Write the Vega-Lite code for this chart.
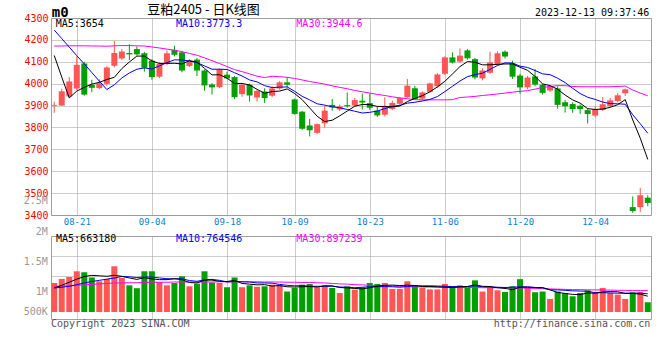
{
  "$schema": "https://vega.github.io/schema/vega-lite/v6.json",
  "background": "white",
  "padding": {"left": 23, "top": 3, "right": 5, "bottom": 0},
  "bounds": "flush",
  "spacing": 21,
  "config": {
    "view": {"stroke": "#a0a0a0", "strokeWidth": 1},
    "font": "DejaVu Sans Mono",
    "text": {"font": "DejaVu Sans Mono", "fontSize": 10}
  },
  "datasets": {
    "kline": [
      {"date":"08-16","open":3899,"high":3917,"low":3867,"close":3903,"volume":1220000,"ma5":4129,"ma10":4245,"ma30":4172,"vma5":1010000,"vma10":1010000,"vma30":1080000},
      {"date":"08-17","open":3900,"high":3977,"low":3898,"close":3965,"volume":1390000,"ma5":4030,"ma10":4206,"ma30":4172,"vma5":1120000,"vma10":1040000,"vma30":1090000},
      {"date":"08-18","open":3942,"high":4030,"low":3936,"close":4010,"volume":1470000,"ma5":3935,"ma10":4167,"ma30":4173,"vma5":1250000,"vma10":1080000,"vma30":1100000},
      {"date":"08-21","open":3978,"high":4125,"low":3970,"close":4086,"volume":1710000,"ma5":3966,"ma10":4128,"ma30":4173,"vma5":1380000,"vma10":1150000,"vma30":1120000},
      {"date":"08-22","open":4092,"high":4100,"low":3945,"close":3950,"volume":1670000,"ma5":3983,"ma10":4090,"ma30":4173,"vma5":1490000,"vma10":1220000,"vma30":1140000},
      {"date":"08-23","open":3994,"high":4018,"low":3961,"close":3981,"volume":1450000,"ma5":3998,"ma10":4051,"ma30":4172,"vma5":1540000,"vma10":1280000,"vma30":1160000},
      {"date":"08-24","open":3980,"high":4020,"low":3975,"close":4002,"volume":1290000,"ma5":4006,"ma10":4012,"ma30":4172,"vma5":1520000,"vma10":1330000,"vma30":1180000},
      {"date":"08-25","open":3999,"high":4080,"low":3990,"close":4074,"volume":1390000,"ma5":4019,"ma10":3973,"ma30":4171,"vma5":1500000,"vma10":1380000,"vma30":1200000},
      {"date":"08-28","open":4082,"high":4195,"low":4075,"close":4140,"volume":1920000,"ma5":4029,"ma10":3995,"ma30":4173,"vma5":1540000,"vma10":1430000,"vma30":1220000},
      {"date":"08-29","open":4115,"high":4158,"low":4108,"close":4147,"volume":1430000,"ma5":4069,"ma10":4026,"ma30":4174,"vma5":1500000,"vma10":1490000,"vma30":1220000},
      {"date":"08-30","open":4140,"high":4180,"low":4108,"close":4134,"volume":1120000,"ma5":4099,"ma10":4049,"ma30":4174,"vma5":1430000,"vma10":1480000,"vma30":1230000},
      {"date":"08-31","open":4158,"high":4170,"low":4128,"close":4134,"volume":1000000,"ma5":4126,"ma10":4066,"ma30":4173,"vma5":1370000,"vma10":1450000,"vma30":1230000},
      {"date":"09-01","open":4139,"high":4145,"low":4055,"close":4073,"volume":1710000,"ma5":4126,"ma10":4072,"ma30":4172,"vma5":1440000,"vma10":1470000,"vma30":1240000},
      {"date":"09-04","open":4105,"high":4112,"low":4018,"close":4030,"volume":1710000,"ma5":4104,"ma10":4067,"ma30":4168,"vma5":1390000,"vma10":1470000,"vma30":1250000},
      {"date":"09-05","open":4032,"high":4100,"low":4025,"close":4090,"volume":1260000,"ma5":4092,"ma10":4081,"ma30":4163,"vma5":1360000,"vma10":1430000,"vma30":1250000},
      {"date":"09-06","open":4090,"high":4152,"low":4085,"close":4139,"volume":1120000,"ma5":4093,"ma10":4096,"ma30":4158,"vma5":1360000,"vma10":1400000,"vma30":1250000},
      {"date":"09-07","open":4154,"high":4173,"low":4125,"close":4132,"volume":1220000,"ma5":4093,"ma10":4109,"ma30":4153,"vma5":1400000,"vma10":1390000,"vma30":1260000},
      {"date":"09-08","open":4143,"high":4150,"low":4052,"close":4060,"volume":1500000,"ma5":4090,"ma10":4108,"ma30":4146,"vma5":1360000,"vma10":1400000,"vma30":1260000},
      {"date":"09-11","open":4081,"high":4112,"low":4076,"close":4104,"volume":1080000,"ma5":4105,"ma10":4104,"ma30":4138,"vma5":1240000,"vma10":1320000,"vma30":1260000},
      {"date":"09-12","open":4110,"high":4118,"low":4035,"close":4060,"volume":1190000,"ma5":4099,"ma10":4096,"ma30":4130,"vma5":1220000,"vma10":1290000,"vma30":1260000},
      {"date":"09-13","open":4060,"high":4065,"low":3968,"close":3992,"volume":1710000,"ma5":4070,"ma10":4081,"ma30":4118,"vma5":1340000,"vma10":1350000,"vma30":1260000},
      {"date":"09-14","open":3996,"high":4003,"low":3950,"close":3983,"volume":1240000,"ma5":4040,"ma10":4066,"ma30":4105,"vma5":1340000,"vma10":1370000,"vma30":1260000},
      {"date":"09-15","open":3984,"high":4070,"low":3980,"close":4066,"volume":1220000,"ma5":4041,"ma10":4066,"ma30":4092,"vma5":1290000,"vma10":1330000,"vma30":1270000},
      {"date":"09-18","open":4041,"high":4055,"low":4020,"close":4024,"volume":1040000,"ma5":4025,"ma10":4065,"ma30":4078,"vma5":1280000,"vma10":1260000,"vma30":1270000},
      {"date":"09-19","open":4030,"high":4035,"low":3930,"close":3938,"volume":1450000,"ma5":4001,"ma10":4050,"ma30":4064,"vma5":1330000,"vma10":1280000,"vma30":1270000},
      {"date":"09-20","open":3952,"high":3998,"low":3940,"close":3995,"volume":1040000,"ma5":4001,"ma10":4035,"ma30":4055,"vma5":1200000,"vma10":1270000,"vma30":1270000},
      {"date":"09-21","open":3995,"high":4000,"low":3918,"close":3946,"volume":1120000,"ma5":3994,"ma10":4017,"ma30":4045,"vma5":1170000,"vma10":1260000,"vma30":1270000},
      {"date":"09-22","open":3937,"high":3972,"low":3918,"close":3967,"volume":1060000,"ma5":3974,"ma10":4008,"ma30":4034,"vma5":1140000,"vma10":1220000,"vma30":1270000},
      {"date":"09-25","open":3964,"high":3979,"low":3912,"close":3934,"volume":1080000,"ma5":3956,"ma10":3991,"ma30":4028,"vma5":1150000,"vma10":1220000,"vma30":1260000},
      {"date":"09-26","open":3945,"high":3988,"low":3938,"close":3978,"volume":1150000,"ma5":3964,"ma10":3982,"ma30":4034,"vma5":1090000,"vma10":1210000,"vma30":1260000},
      {"date":"09-27","open":3978,"high":4012,"low":3972,"close":4006,"volume":1150000,"ma5":3966,"ma10":3984,"ma30":4032,"vma5":1110000,"vma10":1160000,"vma30":1260000},
      {"date":"09-28","open":4006,"high":4029,"low":3983,"close":3995,"volume":860000,"ma5":3976,"ma10":3985,"ma30":4029,"vma5":1060000,"vma10":1120000,"vma30":1250000},
      {"date":"10-09","open":3928,"high":3932,"low":3858,"close":3862,"volume":1010000,"ma5":3955,"ma10":3965,"ma30":4024,"vma5":1050000,"vma10":1100000,"vma30":1250000},
      {"date":"10-10","open":3872,"high":3875,"low":3789,"close":3794,"volume":1150000,"ma5":3927,"ma10":3942,"ma30":4017,"vma5":1060000,"vma10":1110000,"vma30":1240000},
      {"date":"10-11","open":3809,"high":3839,"low":3759,"close":3787,"volume":1180000,"ma5":3889,"ma10":3926,"ma30":4010,"vma5":1070000,"vma10":1080000,"vma30":1240000},
      {"date":"10-12","open":3775,"high":3818,"low":3770,"close":3815,"volume":1040000,"ma5":3851,"ma10":3908,"ma30":4004,"vma5":1050000,"vma10":1080000,"vma30":1230000},
      {"date":"10-13","open":3819,"high":3900,"low":3800,"close":3877,"volume":1120000,"ma5":3827,"ma10":3902,"ma30":3998,"vma5":1100000,"vma10":1080000,"vma30":1220000},
      {"date":"10-16","open":3903,"high":3930,"low":3877,"close":3892,"volume":1010000,"ma5":3833,"ma10":3894,"ma30":3990,"vma5":1100000,"vma10":1080000,"vma30":1200000},
      {"date":"10-17","open":3882,"high":3905,"low":3875,"close":3896,"volume":800000,"ma5":3853,"ma10":3890,"ma30":3983,"vma5":1030000,"vma10":1050000,"vma30":1180000},
      {"date":"10-18","open":3902,"high":3960,"low":3890,"close":3897,"volume":1080000,"ma5":3875,"ma10":3882,"ma30":3977,"vma5":1010000,"vma10":1040000,"vma30":1170000},
      {"date":"10-19","open":3900,"high":3935,"low":3895,"close":3925,"volume":940000,"ma5":3897,"ma10":3874,"ma30":3969,"vma5":990000,"vma10":1020000,"vma30":1150000},
      {"date":"10-20","open":3922,"high":3955,"low":3882,"close":3914,"volume":1040000,"ma5":3905,"ma10":3866,"ma30":3963,"vma5":970000,"vma10":1040000,"vma30":1140000},
      {"date":"10-23","open":3911,"high":3955,"low":3880,"close":3890,"volume":1220000,"ma5":3904,"ma10":3869,"ma30":3957,"vma5":1020000,"vma10":1060000,"vma30":1120000},
      {"date":"10-24","open":3877,"high":3895,"low":3848,"close":3855,"volume":1180000,"ma5":3896,"ma10":3875,"ma30":3951,"vma5":1090000,"vma10":1060000,"vma30":1110000},
      {"date":"10-25","open":3858,"high":3938,"low":3850,"close":3897,"volume":1220000,"ma5":3896,"ma10":3886,"ma30":3946,"vma5":1120000,"vma10":1070000,"vma30":1100000},
      {"date":"10-26","open":3885,"high":3922,"low":3880,"close":3912,"volume":970000,"ma5":3894,"ma10":3896,"ma30":3940,"vma5":1130000,"vma10":1060000,"vma30":1090000},
      {"date":"10-27","open":3908,"high":3940,"low":3903,"close":3934,"volume":970000,"ma5":3898,"ma10":3901,"ma30":3935,"vma5":1110000,"vma10":1040000,"vma30":1080000},
      {"date":"10-30","open":3938,"high":4021,"low":3933,"close":3991,"volume":1290000,"ma5":3918,"ma10":3911,"ma30":3931,"vma5":1130000,"vma10":1070000,"vma30":1070000},
      {"date":"10-31","open":3979,"high":3990,"low":3925,"close":3930,"volume":1120000,"ma5":3933,"ma10":3915,"ma30":3927,"vma5":1110000,"vma10":1100000,"vma30":1060000},
      {"date":"11-01","open":3932,"high":3965,"low":3925,"close":3960,"volume":1010000,"ma5":3945,"ma10":3921,"ma30":3926,"vma5":1070000,"vma10":1100000,"vma30":1050000},
      {"date":"11-02","open":3963,"high":4005,"low":3958,"close":4001,"volume":950000,"ma5":3963,"ma10":3928,"ma30":3926,"vma5":1070000,"vma10":1100000,"vma30":1050000},
      {"date":"11-03","open":3988,"high":4048,"low":3982,"close":4042,"volume":950000,"ma5":3985,"ma10":3941,"ma30":3926,"vma5":1060000,"vma10":1090000,"vma30":1040000},
      {"date":"11-06","open":4045,"high":4125,"low":4040,"close":4120,"volume":1180000,"ma5":4011,"ma10":3964,"ma30":3926,"vma5":1040000,"vma10":1080000,"vma30":1040000},
      {"date":"11-07","open":4120,"high":4143,"low":4092,"close":4097,"volume":1080000,"ma5":4044,"ma10":3988,"ma30":3927,"vma5":1030000,"vma10":1070000,"vma30":1040000},
      {"date":"11-08","open":4101,"high":4161,"low":4095,"close":4128,"volume":1120000,"ma5":4078,"ma10":4012,"ma30":3937,"vma5":1060000,"vma10":1060000,"vma30":1030000},
      {"date":"11-09","open":4152,"high":4158,"low":4110,"close":4116,"volume":1010000,"ma5":4101,"ma10":4032,"ma30":3939,"vma5":1070000,"vma10":1070000,"vma30":1030000},
      {"date":"11-10","open":4112,"high":4118,"low":4020,"close":4028,"volume":1330000,"ma5":4098,"ma10":4041,"ma30":3942,"vma5":1140000,"vma10":1100000,"vma30":1030000},
      {"date":"11-13","open":4024,"high":4070,"low":4015,"close":4060,"volume":860000,"ma5":4086,"ma10":4048,"ma30":3946,"vma5":1080000,"vma10":1060000,"vma30":1020000},
      {"date":"11-14","open":4050,"high":4146,"low":4045,"close":4097,"volume":1010000,"ma5":4086,"ma10":4065,"ma30":3949,"vma5":1070000,"vma10":1050000,"vma30":1020000},
      {"date":"11-15","open":4090,"high":4148,"low":4085,"close":4139,"volume":910000,"ma5":4088,"ma10":4083,"ma30":3953,"vma5":1020000,"vma10":1040000,"vma30":1020000},
      {"date":"11-16","open":4146,"high":4152,"low":4115,"close":4124,"volume":840000,"ma5":4090,"ma10":4095,"ma30":3957,"vma5":990000,"vma10":1030000,"vma30":1020000},
      {"date":"11-17","open":4092,"high":4105,"low":4022,"close":4032,"volume":1080000,"ma5":4090,"ma10":4094,"ma30":3961,"vma5":940000,"vma10":1040000,"vma30":1010000},
      {"date":"11-20","open":4037,"high":4045,"low":3954,"close":3983,"volume":1380000,"ma5":4075,"ma10":4080,"ma30":3965,"vma5":1040000,"vma10":1060000,"vma30":1010000},
      {"date":"11-21","open":3983,"high":4035,"low":3975,"close":4028,"volume":1010000,"ma5":4061,"ma10":4074,"ma30":3968,"vma5":1040000,"vma10":1060000,"vma30":1000000},
      {"date":"11-22","open":4033,"high":4067,"low":3988,"close":3996,"volume":830000,"ma5":4033,"ma10":4060,"ma30":3975,"vma5":1030000,"vma10":1030000,"vma30":990000},
      {"date":"11-23","open":3995,"high":4000,"low":3950,"close":3958,"volume":860000,"ma5":3999,"ma10":4045,"ma30":3983,"vma5":1030000,"vma10":1010000,"vma30":980000},
      {"date":"11-24","open":3969,"high":3992,"low":3962,"close":3988,"volume":550000,"ma5":3991,"ma10":4041,"ma30":3987,"vma5":930000,"vma10":930000,"vma30":970000},
      {"date":"11-27","open":3978,"high":3988,"low":3886,"close":3903,"volume":860000,"ma5":3975,"ma10":4025,"ma30":3991,"vma5":820000,"vma10":930000,"vma30":960000},
      {"date":"11-28","open":3915,"high":3925,"low":3868,"close":3897,"volume":790000,"ma5":3948,"ma10":4005,"ma30":3991,"vma5":780000,"vma10":910000,"vma30":950000},
      {"date":"11-29","open":3907,"high":3915,"low":3867,"close":3884,"volume":660000,"ma5":3926,"ma10":3979,"ma30":3987,"vma5":740000,"vma10":890000,"vma30":940000},
      {"date":"11-30","open":3899,"high":3905,"low":3862,"close":3884,"volume":800000,"ma5":3911,"ma10":3955,"ma30":3986,"vma5":730000,"vma10":880000,"vma30":940000},
      {"date":"12-01","open":3879,"high":3888,"low":3818,"close":3861,"volume":910000,"ma5":3886,"ma10":3938,"ma30":3986,"vma5":800000,"vma10":870000,"vma30":930000},
      {"date":"12-04","open":3854,"high":3895,"low":3848,"close":3883,"volume":800000,"ma5":3882,"ma10":3928,"ma30":3986,"vma5":790000,"vma10":810000,"vma30":930000},
      {"date":"12-05","open":3880,"high":3939,"low":3875,"close":3906,"volume":1010000,"ma5":3884,"ma10":3916,"ma30":3986,"vma5":840000,"vma10":810000,"vma30":920000},
      {"date":"12-06","open":3898,"high":3935,"low":3893,"close":3924,"volume":800000,"ma5":3892,"ma10":3909,"ma30":3986,"vma5":860000,"vma10":800000,"vma30":920000},
      {"date":"12-07","open":3921,"high":3957,"low":3915,"close":3947,"volume":730000,"ma5":3904,"ma10":3908,"ma30":3987,"vma5":850000,"vma10":790000,"vma30":910000},
      {"date":"12-08","open":3956,"high":3978,"low":3944,"close":3974,"volume":550000,"ma5":3927,"ma10":3906,"ma30":3989,"vma5":780000,"vma10":790000,"vma30":910000},
      {"date":"12-11","open":3436,"high":3485,"low":3410,"close":3418,"volume":830000,"ma5":3834,"ma10":3858,"ma30":3971,"vma5":780000,"vma10":790000,"vma30":900000},
      {"date":"12-12","open":3436,"high":3524,"low":3414,"close":3490,"volume":840000,"ma5":3751,"ma10":3817,"ma30":3957,"vma5":750000,"vma10":790000,"vma30":900000},
      {"date":"12-13","open":3479,"high":3490,"low":3440,"close":3455,"volume":410000,"ma5":3654,"ma10":3773.3,"ma30":3944.6,"vma5":663180,"vma10":764546,"vma30":897239}
    ]
  },
  "vconcat": [
    {
      "width": 600,
      "height": 197,
      "data": {"name": "kline"},
      "encoding": {
        "x": {
          "field": "date", "type": "ordinal", "sort": null,
          "scale": {"type": "point", "padding": 0.43},
          "axis": {
            "title": null,
            "values": ["08-21","09-04","09-18","10-09","10-23","11-06","11-20","12-04"],
            "grid": true, "gridColor": "#999999", "gridDash": [1, 1],
            "ticks": false, "domain": false, "labelAngle": 0,
            "labelColor": "#0b7fd4", "labelFont": "DejaVu Sans Mono", "labelFontSize": 9, "labelPadding": 2
          }
        }
      },
      "layer": [
        {
          "mark": {"type": "rule", "strokeWidth": 1},
          "encoding": {
            "y": {
              "field": "low", "type": "quantitative",
              "scale": {"domain": [3400, 4300], "zero": false, "nice": false},
              "axis": {"title": null, "values": [3400, 3500, 3600, 3700, 3800, 3900, 4000, 4100, 4200, 4300], "format": "d", "labelColor": "#ff0000", "labelFont": "DejaVu Sans Mono", "labelFontSize": 10, "labelPadding": 3, "labelOverlap": false, "labelBound": false, "ticks": false, "domain": false, "grid": true, "gridColor": "#999999", "gridDash": [1, 1]}
            },
            "y2": {"field": "high"},
            "color": {"condition": {"test": "datum.close >= datum.open", "value": "#ff5555"}, "value": "#00a000"}
          }
        },
        {
          "mark": {"type": "bar", "size": 6},
          "encoding": {
            "y": {"field": "open", "type": "quantitative",
              "axis": {"title": null, "values": [3400, 3500, 3600, 3700, 3800, 3900, 4000, 4100, 4200, 4300], "format": "d", "labelColor": "#ff0000", "labelFont": "DejaVu Sans Mono", "labelFontSize": 10, "labelPadding": 3, "labelOverlap": false, "labelBound": false, "ticks": false, "domain": false, "grid": true, "gridColor": "#999999", "gridDash": [1, 1]}},
            "y2": {"field": "close"},
            "color": {"condition": {"test": "datum.close >= datum.open", "value": "#ff5555"}, "value": "#00a000"}
          }
        },
        {"mark": {"type": "line", "color": "#ff00ff", "strokeWidth": 1}, "encoding": {"y": {"field": "ma30", "type": "quantitative",
          "axis": {"title": null, "values": [3400, 3500, 3600, 3700, 3800, 3900, 4000, 4100, 4200, 4300], "format": "d", "labelColor": "#ff0000", "labelFont": "DejaVu Sans Mono", "labelFontSize": 10, "labelPadding": 3, "labelOverlap": false, "labelBound": false, "ticks": false, "domain": false, "grid": true, "gridColor": "#999999", "gridDash": [1, 1]}}}},
        {"mark": {"type": "line", "color": "#0000ff", "strokeWidth": 1}, "encoding": {"y": {"field": "ma10", "type": "quantitative",
          "axis": {"title": null, "values": [3400, 3500, 3600, 3700, 3800, 3900, 4000, 4100, 4200, 4300], "format": "d", "labelColor": "#ff0000", "labelFont": "DejaVu Sans Mono", "labelFontSize": 10, "labelPadding": 3, "labelOverlap": false, "labelBound": false, "ticks": false, "domain": false, "grid": true, "gridColor": "#999999", "gridDash": [1, 1]}}}},
        {"mark": {"type": "line", "color": "#000000", "strokeWidth": 1}, "encoding": {"y": {"field": "ma5", "type": "quantitative",
          "axis": {"title": null, "values": [3400, 3500, 3600, 3700, 3800, 3900, 4000, 4100, 4200, 4300], "format": "d", "labelColor": "#ff0000", "labelFont": "DejaVu Sans Mono", "labelFontSize": 10, "labelPadding": 3, "labelOverlap": false, "labelBound": false, "ticks": false, "domain": false, "grid": true, "gridColor": "#999999", "gridDash": [1, 1]}}}},
        {
          "data": {"values": [{"t": "2.5M"}]},
          "mark": {"type": "text", "align": "right", "dx": -6.5, "color": "#999999"},
          "encoding": {"x": {"datum": "08-16", "type": "ordinal"}, "y": {"datum": 3462, "type": "quantitative",
            "axis": {"title": null, "values": [3400, 3500, 3600, 3700, 3800, 3900, 4000, 4100, 4200, 4300], "format": "d", "labelColor": "#ff0000", "labelFont": "DejaVu Sans Mono", "labelFontSize": 10, "labelPadding": 3, "labelOverlap": false, "labelBound": false, "ticks": false, "domain": false, "grid": true, "gridColor": "#999999", "gridDash": [1, 1]}}, "text": {"field": "t"}}
        },
        {
          "data": {"values": [{"t": "m0"}]},
          "mark": {"type": "text", "align": "left", "dx": -2.5, "fontWeight": "bold", "fontSize": 14, "color": "#000000"},
          "encoding": {"x": {"datum": "08-16", "type": "ordinal"}, "y": {"datum": 4324, "type": "quantitative",
            "axis": {"title": null, "values": [3400, 3500, 3600, 3700, 3800, 3900, 4000, 4100, 4200, 4300], "format": "d", "labelColor": "#ff0000", "labelFont": "DejaVu Sans Mono", "labelFontSize": 10, "labelPadding": 3, "labelOverlap": false, "labelBound": false, "ticks": false, "domain": false, "grid": true, "gridColor": "#999999", "gridDash": [1, 1]}}, "text": {"field": "t"}}
        },
        {
          "data": {"values": [{"t": "豆粕2405 - 日K线图"}]},
          "mark": {"type": "text", "align": "center", "dx": -1, "font": "Noto Sans CJK SC", "fontSize": 13, "color": "#000000"},
          "encoding": {"x": {"datum": "09-13", "type": "ordinal"}, "y": {"datum": 4335, "type": "quantitative",
            "axis": {"title": null, "values": [3400, 3500, 3600, 3700, 3800, 3900, 4000, 4100, 4200, 4300], "format": "d", "labelColor": "#ff0000", "labelFont": "DejaVu Sans Mono", "labelFontSize": 10, "labelPadding": 3, "labelOverlap": false, "labelBound": false, "ticks": false, "domain": false, "grid": true, "gridColor": "#999999", "gridDash": [1, 1]}}, "text": {"field": "t"}}
        },
        {
          "data": {"values": [{"t": "2023-12-13 09:37:46"}]},
          "mark": {"type": "text", "align": "right", "dx": 1.5, "color": "#000000"},
          "encoding": {"x": {"datum": "12-13", "type": "ordinal"}, "y": {"datum": 4324, "type": "quantitative",
            "axis": {"title": null, "values": [3400, 3500, 3600, 3700, 3800, 3900, 4000, 4100, 4200, 4300], "format": "d", "labelColor": "#ff0000", "labelFont": "DejaVu Sans Mono", "labelFontSize": 10, "labelPadding": 3, "labelOverlap": false, "labelBound": false, "ticks": false, "domain": false, "grid": true, "gridColor": "#999999", "gridDash": [1, 1]}}, "text": {"field": "t"}}
        },
        {
          "data": {"values": [{"t": "MA5:3654"}]},
          "mark": {"type": "text", "align": "left", "dx": 1.5, "color": "#000000"},
          "encoding": {"x": {"datum": "08-16", "type": "ordinal"}, "y": {"datum": 4272, "type": "quantitative",
            "axis": {"title": null, "values": [3400, 3500, 3600, 3700, 3800, 3900, 4000, 4100, 4200, 4300], "format": "d", "labelColor": "#ff0000", "labelFont": "DejaVu Sans Mono", "labelFontSize": 10, "labelPadding": 3, "labelOverlap": false, "labelBound": false, "ticks": false, "domain": false, "grid": true, "gridColor": "#999999", "gridDash": [1, 1]}}, "text": {"field": "t"}}
        },
        {
          "data": {"values": [{"t": "MA10:3773.3"}]},
          "mark": {"type": "text", "align": "left", "dx": 1.6, "color": "#0000ff"},
          "encoding": {"x": {"datum": "09-07", "type": "ordinal"}, "y": {"datum": 4272, "type": "quantitative",
            "axis": {"title": null, "values": [3400, 3500, 3600, 3700, 3800, 3900, 4000, 4100, 4200, 4300], "format": "d", "labelColor": "#ff0000", "labelFont": "DejaVu Sans Mono", "labelFontSize": 10, "labelPadding": 3, "labelOverlap": false, "labelBound": false, "ticks": false, "domain": false, "grid": true, "gridColor": "#999999", "gridDash": [1, 1]}}, "text": {"field": "t"}}
        },
        {
          "data": {"values": [{"t": "MA30:3944.6"}]},
          "mark": {"type": "text", "align": "left", "dx": 1.7, "color": "#ff00ff"},
          "encoding": {"x": {"datum": "10-09", "type": "ordinal"}, "y": {"datum": 4272, "type": "quantitative",
            "axis": {"title": null, "values": [3400, 3500, 3600, 3700, 3800, 3900, 4000, 4100, 4200, 4300], "format": "d", "labelColor": "#ff0000", "labelFont": "DejaVu Sans Mono", "labelFontSize": 10, "labelPadding": 3, "labelOverlap": false, "labelBound": false, "ticks": false, "domain": false, "grid": true, "gridColor": "#999999", "gridDash": [1, 1]}}, "text": {"field": "t"}}
        }
      ]
    },
    {
      "width": 600,
      "height": 83,
      "data": {"name": "kline"},
      "encoding": {
        "x": {
          "field": "date", "type": "ordinal", "sort": null,
          "scale": {"type": "point", "padding": 0.43},
          "axis": {
            "title": null,
            "values": ["08-21","09-04","09-18","10-09","10-23","11-06","11-20","12-04"],
            "grid": true, "gridColor": "#999999", "gridDash": [1, 1],
            "ticks": false, "domain": false, "labels": false
          }
        }
      },
      "layer": [
        {
          "mark": {"type": "bar", "size": 6},
          "encoding": {
            "y": {
              "field": "volume", "type": "quantitative",
              "scale": {"domain": [-294000, 3193000], "zero": false, "nice": false},
              "axis": {"title": null, "values": [1513000, 2353000], "labels": false, "ticks": false, "domain": false, "grid": true, "gridColor": "#999999", "gridDash": [1, 1]}
            },
            "y2": {"datum": 0},
            "color": {"condition": {"test": "datum.close >= datum.open", "value": "#ff5555"}, "value": "#00a000"}
          }
        },
        {"mark": {"type": "line", "color": "#ff00ff", "strokeWidth": 1}, "encoding": {"y": {"field": "vma30", "type": "quantitative",
          "axis": {"title": null, "values": [1513000, 2353000], "labels": false, "ticks": false, "domain": false, "grid": true, "gridColor": "#999999", "gridDash": [1, 1]}}}},
        {"mark": {"type": "line", "color": "#0000ff", "strokeWidth": 1}, "encoding": {"y": {"field": "vma10", "type": "quantitative",
          "axis": {"title": null, "values": [1513000, 2353000], "labels": false, "ticks": false, "domain": false, "grid": true, "gridColor": "#999999", "gridDash": [1, 1]}}}},
        {"mark": {"type": "line", "color": "#000000", "strokeWidth": 1}, "encoding": {"y": {"field": "vma5", "type": "quantitative",
          "axis": {"title": null, "values": [1513000, 2353000], "labels": false, "ticks": false, "domain": false, "grid": true, "gridColor": "#999999", "gridDash": [1, 1]}}}},
        {
          "data": {"values": [{"t": "2M"}]},
          "mark": {"type": "text", "align": "right", "dx": -6.5, "color": "#999999"},
          "encoding": {"x": {"datum": "08-16", "type": "ordinal"}, "y": {"datum": 3361000, "type": "quantitative",
            "axis": {"title": null, "values": [1513000, 2353000], "labels": false, "ticks": false, "domain": false, "grid": true, "gridColor": "#999999", "gridDash": [1, 1]}}, "text": {"field": "t"}}
        },
        {
          "data": {"values": [{"t": "1.5M"}]},
          "mark": {"type": "text", "align": "right", "dx": -6.5, "color": "#999999"},
          "encoding": {"x": {"datum": "08-16", "type": "ordinal"}, "y": {"datum": 2113000, "type": "quantitative",
            "axis": {"title": null, "values": [1513000, 2353000], "labels": false, "ticks": false, "domain": false, "grid": true, "gridColor": "#999999", "gridDash": [1, 1]}}, "text": {"field": "t"}}
        },
        {
          "data": {"values": [{"t": "1M"}]},
          "mark": {"type": "text", "align": "right", "dx": -6.5, "color": "#999999"},
          "encoding": {"x": {"datum": "08-16", "type": "ordinal"}, "y": {"datum": 853000, "type": "quantitative",
            "axis": {"title": null, "values": [1513000, 2353000], "labels": false, "ticks": false, "domain": false, "grid": true, "gridColor": "#999999", "gridDash": [1, 1]}}, "text": {"field": "t"}}
        },
        {
          "data": {"values": [{"t": "500K"}]},
          "mark": {"type": "text", "align": "right", "dx": -6.5, "color": "#999999"},
          "encoding": {"x": {"datum": "08-16", "type": "ordinal"}, "y": {"datum": 13000, "type": "quantitative",
            "axis": {"title": null, "values": [1513000, 2353000], "labels": false, "ticks": false, "domain": false, "grid": true, "gridColor": "#999999", "gridDash": [1, 1]}}, "text": {"field": "t"}}
        },
        {
          "data": {"values": [{"t": "MA5:663180"}]},
          "mark": {"type": "text", "align": "left", "dx": 1.8, "color": "#000000"},
          "encoding": {"x": {"datum": "08-16", "type": "ordinal"}, "y": {"datum": 3046000, "type": "quantitative",
            "axis": {"title": null, "values": [1513000, 2353000], "labels": false, "ticks": false, "domain": false, "grid": true, "gridColor": "#999999", "gridDash": [1, 1]}}, "text": {"field": "t"}}
        },
        {
          "data": {"values": [{"t": "MA10:764546"}]},
          "mark": {"type": "text", "align": "left", "dx": 1.6, "color": "#0000ff"},
          "encoding": {"x": {"datum": "09-07", "type": "ordinal"}, "y": {"datum": 3046000, "type": "quantitative",
            "axis": {"title": null, "values": [1513000, 2353000], "labels": false, "ticks": false, "domain": false, "grid": true, "gridColor": "#999999", "gridDash": [1, 1]}}, "text": {"field": "t"}}
        },
        {
          "data": {"values": [{"t": "MA30:897239"}]},
          "mark": {"type": "text", "align": "left", "dx": 1.7, "color": "#ff00ff"},
          "encoding": {"x": {"datum": "10-09", "type": "ordinal"}, "y": {"datum": 3046000, "type": "quantitative",
            "axis": {"title": null, "values": [1513000, 2353000], "labels": false, "ticks": false, "domain": false, "grid": true, "gridColor": "#999999", "gridDash": [1, 1]}}, "text": {"field": "t"}}
        },
        {
          "data": {"values": [{"t": "Copyright 2023 SINA.COM"}]},
          "mark": {"type": "text", "align": "left", "dx": -3.2, "color": "#555555"},
          "encoding": {"x": {"datum": "08-16", "type": "ordinal"}, "y": {"datum": -525000, "type": "quantitative",
            "axis": {"title": null, "values": [1513000, 2353000], "labels": false, "ticks": false, "domain": false, "grid": true, "gridColor": "#999999", "gridDash": [1, 1]}}, "text": {"field": "t"}}
        },
        {
          "data": {"values": [{"t": "http://finance.sina.com.cn"}]},
          "mark": {"type": "text", "align": "right", "dx": 2.5, "color": "#555555"},
          "encoding": {"x": {"datum": "12-13", "type": "ordinal"}, "y": {"datum": -525000, "type": "quantitative",
            "axis": {"title": null, "values": [1513000, 2353000], "labels": false, "ticks": false, "domain": false, "grid": true, "gridColor": "#999999", "gridDash": [1, 1]}}, "text": {"field": "t"}}
        }
      ]
    }
  ]
}
